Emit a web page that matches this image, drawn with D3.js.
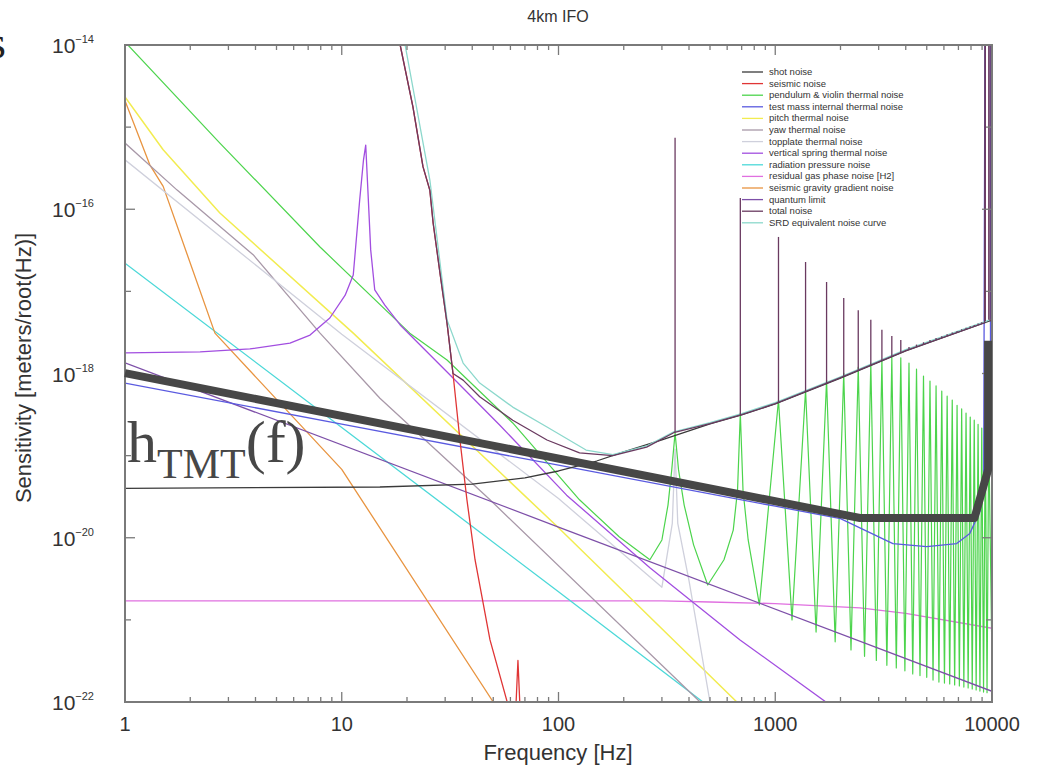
<!DOCTYPE html>
<html><head><meta charset="utf-8">
<script src="https://cdn.jsdelivr.net/npm/d3@7"></script>
<style>body{margin:0;background:#fff;}svg{display:block;}</style>
</head><body><svg id="c" width="1043" height="768"></svg>
<script>
// ---------------- DATA ----------------
const titleText = "4km IFO";
const xLabel = "Frequency [Hz]";
const yLabel = "Sensitivity [meters/root(Hz)]";
const xTickValues = [1, 10, 100, 1000, 10000];
const yTickExponents = [-14, -16, -18, -20, -22];

const legendLabels = [
  "shot noise", "seismic noise", "pendulum & violin thermal noise",
  "test mass internal thermal noise", "pitch thermal noise", "yaw thermal noise",
  "topplate thermal noise", "vertical spring thermal noise", "radiation pressure noise",
  "residual gas phase noise [H2]", "seismic gravity gradient noise", "quantum limit",
  "total noise", "SRD equivalent noise curve"
];
const legendColors = [
  "#3a3a3a", "#e03535", "#4cd44c", "#5a5ae0", "#f2ec50", "#a898a8",
  "#cfd0dc", "#a24ee0", "#4cd8d8", "#e070e0", "#e89440", "#7d4fa8",
  "#6a3a60", "#8cd8cc"
];

const shotNoise = [[1,4.0e-20],[15,4.15e-20],[40,4.5e-20],[70,5.35e-20],[100,6.5e-20],[150,8.6e-20],
  [200,1.11e-19],[300,1.55e-19],[500,2.43e-19],[700,3.13e-19],[1000,4.26e-19],[2000,8.8e-19],[4000,1.88e-18],[10000,4.48e-18]];
const seismicNoise = [[18.6,1e-14],[21.3,1.76e-15],[23.7,3.3e-16],[25.5,1.7e-16],[26.4,6.8e-17],[28.4,1.67e-17],
  [30.6,4.1e-18],[32.6,1.0e-18],[35.1,1.55e-19],[37.8,2.9e-20],[41.2,5.4e-21],[48.3,5.7e-22],[58.5,9.2e-23],
  [63.5,8e-23],[65,3.2e-22],[66.5,8e-23]];
const pendulumNoise = [[1,1.09e-14],[2.74,6.4e-16],[7.94,3.47e-17],[20.6,3.1e-18],[30.6,1.46e-18],[61.5,2.5e-19],
  [125,2.9e-20],[191,1.02e-20],[264,5.4e-21],[300,9.4e-21],[320,2.5e-20],[333,6.7e-20],[345,1.89e-19],
  [358,6.7e-20],[380,2.5e-20],[420,8.2e-21],[488,2.66e-21],[580,5.4e-21],[640,1.24e-20],[670,3.8e-20],
  [690,3.3e-19],[710,3.8e-20],[750,9.4e-21],[845,1.52e-21]];
const violinFreqs = [345,690,1035,1380,1725,2070,2415,2760,3105,3450,3795,4140,4485,4830,5175,5520,5865,6210,
  6555,6900,7245,7590,7935,8280,8625,8970,9315,9660];
const violinGreenPeak = [1.89e-19,3.3e-19,4.75e-19,6.3e-19,8.3e-19,1.01e-18,1.2e-18,1.34e-18,1.46e-18,1.59e-18,
  1.55e-18,1.34e-18,1.13e-18,9.3e-19,8.1e-19,7.05e-19,6.1e-19,5.3e-19,4.75e-19,4.1e-19,3.7e-19,3.3e-19,2.95e-19,
  2.7e-19,2.4e-19,2.17e-19,2.0e-19,1.83e-19];
const violinTroughFreq = [488,845,1195,1543,1890,2236,2582,2927,3273,3618,3964,4309,4654,4999,5345,5690,6035,
  6380,6725,7070,7416,7761,8106,8451,8796,9141,9486,10000];
const violinGreenTrough = [2.66e-21,1.52e-21,1.0e-21,7.1e-22,5.4e-22,4.3e-22,3.6e-22,3.2e-22,2.8e-22,2.6e-22,
  2.4e-22,2.2e-22,2.1e-22,2.0e-22,1.85e-22,1.75e-22,1.7e-22,1.66e-22,1.61e-22,1.57e-22,1.52e-22,1.48e-22,
  1.44e-22,1.4e-22,1.36e-22,1.32e-22,1.3e-22,3e-22];
const totalSpikeTop = [7.4e-16,1.37e-16,4.6e-17,2.28e-17,1.3e-17,8.3e-18,5.9e-18,4.5e-18,3.4e-18,2.86e-18,2.56e-18,
  2.1e-18,2.25e-18,2.4e-18,2.55e-18,2.7e-18,2.85e-18,3.0e-18,3.15e-18,3.3e-18,3.45e-18,3.6e-18,3.75e-18,3.9e-18,
  4.05e-18,4.2e-18,4.35e-18,4.5e-18];
const testMassNoise = [[1,7.65e-19],[10,2.42e-19],[100,7.65e-20],[1000,2.42e-20],[2000,1.71e-20],[3490,8.5e-21],
  [5000,7.8e-21],[6870,8.5e-21],[7900,1.13e-20],[8800,2.1e-20],[9150,4.2e-20],[9300,1e-13],[9800,1e-13],[9850,3e-19],[10000,1.5e-19]];
const pitchNoise = [[1,2.33e-15],[1.5,5.3e-16],[2.74,9.0e-17],[11.3,3.1e-18],[99.2,1.35e-20],[665,1.0e-22]];
const yawNoise = [[1,6.4e-16],[1.74,1.71e-16],[3.9,2.8e-17],[7.94,3.1e-18],[15,5.0e-19],[48.3,2.9e-20],[450,1e-22]];
const topplateNoise = [[1,4e-16],[10,3e-18],[100,3e-20],[300,2.5e-21],[335,1.5e-20],[345,1.2e-19],[355,1.5e-20],[400,3e-21],[500,1e-22]];
const verticalSpringNoise = [[1,1.78e-18],[2.22,1.83e-18],[3.77,1.99e-18],[5.77,2.35e-18],[7.14,2.94e-18],[8.81,4.74e-18],
  [10.37,9.0e-18],[11.3,1.58e-17],[12.1,1.3e-16],[12.6,4.0e-16],[12.9,6.05e-16],[13.2,1.71e-16],[13.6,3.2e-17],
  [14.2,1.04e-17],[15.8,6.8e-18],[18.6,3.9e-18],[31.6,9.6e-19],[53.5,2.36e-19],[109,3.3e-20],[264,4.3e-21],[688,5.7e-22],[1740,9.7e-23]];
const radiationPressureNoise = [[1,2.2e-17],[10,2.2e-19],[100,2.2e-21],[464,1.0e-22]];
const gasNoise = [[1,1.7e-21],[300,1.7e-21],[500,1.65e-21],[1000,1.58e-21],[2460,1.4e-21],[4000,1.2e-21],[10000,7.9e-22]];
const gravityGradientNoise = [[1,2.1e-15],[1.3,3.5e-16],[1.5,1.9e-16],[2.6,3.1e-18],[10,6.8e-20],[50,1e-22]];
const quantumLimit = [[1,1.35e-18],[100,1.35e-20],[10000,1.35e-22]];
const totalNoise = [[18.6,1e-14],[21.3,1.76e-15],[23.7,3.3e-16],[25.5,1.7e-16],[26.4,6.8e-17],[28.4,1.67e-17],
  [30.6,4.1e-18],[32.6,1.0e-18],[36.3,8.3e-19],[43.3,5.2e-19],[61.5,2.7e-19],[88.5,1.55e-19],[125,1.08e-19],
  [178,1.0e-19],[255,1.27e-19],[340,1.9e-19],[500,2.45e-19],[700,3.15e-19],[1000,4.3e-19],[2000,8.9e-19],
  [4000,1.9e-18],[9250,4.15e-18],[9300,1e-13],[9800,1e-13],[9800,4.4e-18],[10000,4.5e-18]];
const srdNoise = [[19.6,1e-14],[25.5,2.27e-16],[30.6,4.5e-18],[36.3,1.34e-18],[43.3,7.65e-19],[61.5,3.9e-19],
  [88.5,2.23e-19],[134,1.17e-19],[178,1.03e-19],[255,1.31e-19],[340,1.95e-19],[500,2.52e-19],[700,3.25e-19],
  [1000,4.42e-19],[2000,9.1e-19],[4000,1.95e-18],[10000,4.6e-18]];
const tmtCurve = [[1,1.01e-18],[2460,1.74e-20],[8300,1.74e-20],[9590,6.7e-20],[9590,2.5e-18]];

// ---------------- CHART ----------------
const svg = d3.select("#c");
const L = 125, R = 992, T = 45, B = 702;
const x = d3.scaleLog().domain([1, 10000]).range([L, R]);
const y = d3.scaleLog().domain([1e-22, 1e-14]).range([B, T]);
const font = "'Liberation Sans', Arial, Helvetica, sans-serif";

svg.append("rect").attr("width", 1043).attr("height", 768).attr("fill", "#fff");
svg.append("defs").append("clipPath").attr("id", "clip")
  .append("rect").attr("x", L).attr("y", T).attr("width", R - L).attr("height", B - T);

const line = d3.line().x(d => x(d[0])).y(d => y(d[1]));
const plot = svg.append("g").attr("clip-path", "url(#clip)");

// green curve assembled from read values
const greenPts = pendulumNoise.slice();
for (let i = 2; i < violinFreqs.length; i++) {
  greenPts.push([violinFreqs[i], violinGreenPeak[i]]);
  greenPts.push([violinTroughFreq[i], violinGreenTrough[i]]);
}

function draw(data, color, w) {
  plot.append("path").datum(data).attr("d", line).attr("fill", "none")
    .attr("stroke", color).attr("stroke-width", w || 1.3).attr("stroke-linejoin", "round");
}
draw(gasNoise, legendColors[9]);
draw(radiationPressureNoise, legendColors[8]);
draw(gravityGradientNoise, legendColors[10]);
draw(pitchNoise, legendColors[4], 1.5);
draw(yawNoise, legendColors[5]);
draw(topplateNoise, legendColors[6]);
draw(greenPts, legendColors[2], 1.2);
draw(verticalSpringNoise, legendColors[7]);
draw(quantumLimit, legendColors[11]);
draw(testMassNoise, legendColors[3]);
draw(shotNoise, legendColors[0]);
draw(seismicNoise, legendColors[1]);
draw(srdNoise, legendColors[13]);
draw(totalNoise, legendColors[12]);

// total-noise violin spikes
function logInterp(pts, f) {
  for (let i = 0; i < pts.length - 1; i++) {
    if (f >= pts[i][0] && f <= pts[i + 1][0]) {
      const t = (Math.log(f) - Math.log(pts[i][0])) / (Math.log(pts[i + 1][0]) - Math.log(pts[i][0]));
      return Math.exp(Math.log(pts[i][1]) + t * (Math.log(pts[i + 1][1]) - Math.log(pts[i][1])));
    }
  }
  return pts[pts.length - 1][1];
}
plot.selectAll("line.spike").data(violinFreqs).join("line").attr("class", "spike")
  .attr("x1", d => x(d)).attr("x2", d => x(d))
  .attr("y1", (d, i) => y(totalSpikeTop[i])).attr("y2", d => y(logInterp(totalNoise, d)))
  .attr("stroke", legendColors[12]).attr("stroke-width", 1.3);

// frame and ticks
const tickColor = "#7a7a7a";
svg.append("rect").attr("x", L).attr("y", T).attr("width", R - L).attr("height", B - T)
  .attr("fill", "none").attr("stroke", tickColor).attr("stroke-width", 2);
const minorX = [];
[1, 10, 100, 1000].forEach(d => { for (let k = 2; k <= 9; k++) minorX.push(d * k); });
const gt = svg.append("g").attr("stroke", tickColor).attr("stroke-width", 1.3);
minorX.forEach(v => {
  gt.append("line").attr("x1", x(v)).attr("x2", x(v)).attr("y1", B).attr("y2", B - 5);
  gt.append("line").attr("x1", x(v)).attr("x2", x(v)).attr("y1", T).attr("y2", T + 5);
});
xTickValues.forEach(v => {
  gt.append("line").attr("x1", x(v)).attr("x2", x(v)).attr("y1", B).attr("y2", B - 10);
  gt.append("line").attr("x1", x(v)).attr("x2", x(v)).attr("y1", T).attr("y2", T + 10);
});
for (let e = -22; e <= -14; e++) {
  const len = (e % 2 === 0) ? 10 : 6;
  gt.append("line").attr("x1", L).attr("x2", L + len).attr("y1", y(Math.pow(10, e))).attr("y2", y(Math.pow(10, e)));
  gt.append("line").attr("x1", R).attr("x2", R - len).attr("y1", y(Math.pow(10, e))).attr("y2", y(Math.pow(10, e)));
}

// tick labels
svg.append("g").selectAll("text").data(xTickValues).join("text")
  .attr("x", d => x(d)).attr("y", 731).attr("text-anchor", "middle")
  .attr("font-family", font).attr("font-size", 20).attr("fill", "#333").text(d => d);
const yl = svg.append("g").selectAll("text").data(yTickExponents).join("text")
  .attr("x", 94).attr("y", d => y(Math.pow(10, d)) + 8).attr("text-anchor", "end")
  .attr("font-family", font).attr("font-size", 21).attr("fill", "#333");
yl.append("tspan").text("10");
yl.append("tspan").attr("dy", -10).attr("font-size", 11).text(d => "\u2212" + (-d));

// labels
svg.append("text").attr("x", 558).attr("y", 22).attr("text-anchor", "middle")
  .attr("font-family", font).attr("font-size", 16).attr("fill", "#333").text(titleText);
svg.append("text").attr("x", 558).attr("y", 760).attr("text-anchor", "middle")
  .attr("font-family", font).attr("font-size", 22).attr("fill", "#333").text(xLabel);
svg.append("text").attr("transform", "translate(31,368) rotate(-90)").attr("text-anchor", "middle")
  .attr("font-family", font).attr("font-size", 22).attr("fill", "#333").text(yLabel);

// legend
const lg = svg.append("g");
legendLabels.forEach((lab, i) => {
  const yy = 72 + 11.6 * i;
  lg.append("line").attr("x1", 742).attr("x2", 763).attr("y1", yy).attr("y2", yy)
    .attr("stroke", legendColors[i]).attr("stroke-width", 1.3);
  lg.append("text").attr("x", 769).attr("y", yy + 3).attr("font-family", font)
    .attr("font-size", 9.5).attr("fill", "#333").text(lab);
});

// overlay annotation
svg.append("path").datum(tmtCurve).attr("d", line).attr("fill", "none")
  .attr("stroke", "#474747").attr("stroke-width", 8).attr("stroke-linejoin", "round").attr("stroke-linecap", "butt");
const ann = svg.append("text").attr("x", 127).attr("y", 462)
  .attr("font-family", "'Liberation Serif', 'Times New Roman', serif").attr("font-size", 60).attr("fill", "#474747");
ann.append("tspan").text("h");
ann.append("tspan").attr("dy", 16).attr("font-size", 42).text("TMT");
ann.append("tspan").attr("dy", -16).text("(f)");
svg.append("text").attr("x", -12).attr("y", 58)
  .attr("font-family", "'Liberation Serif', 'Times New Roman', serif").attr("font-size", 46).attr("fill", "#222").text("s");
</script></body></html>
